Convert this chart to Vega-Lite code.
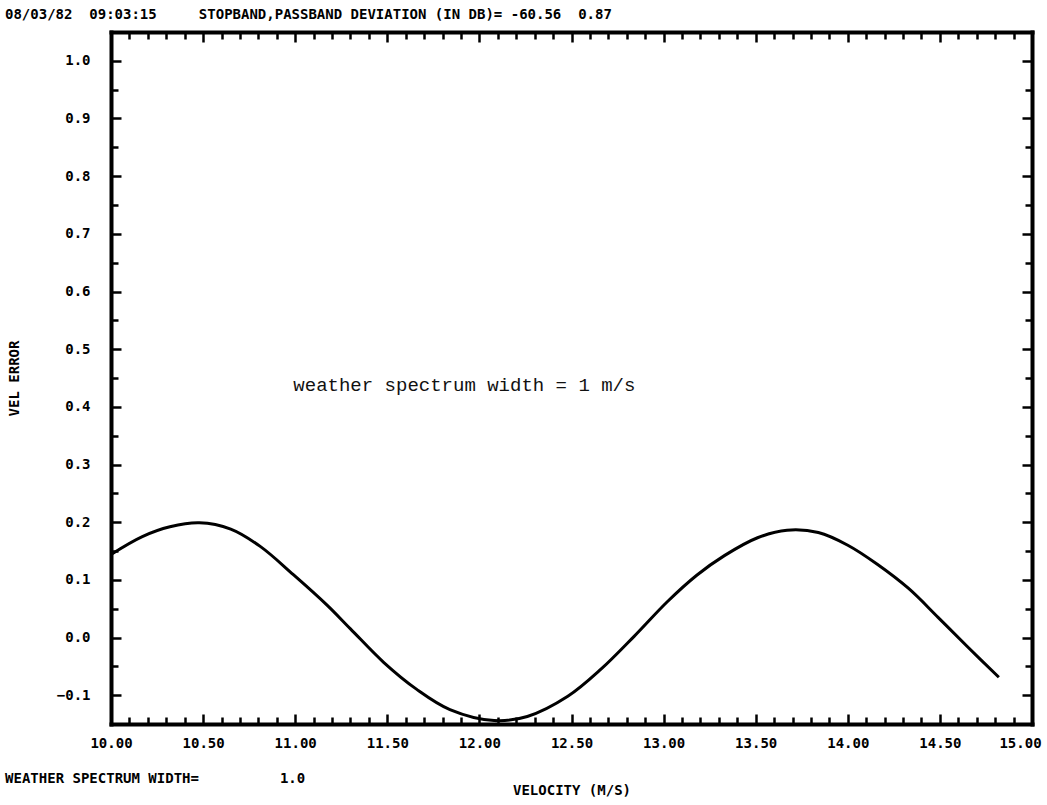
{
  "$schema": "https://vega.github.io/schema/vega-lite/v6.json",
  "width": 921,
  "height": 692,
  "autosize": {"type": "none"},
  "padding": {"left": 111, "top": 32, "right": 15, "bottom": 81},
  "background": "#ffffff",
  "config": {
    "view": {"stroke": null},
    "axis": {
      "grid": false,
      "domainColor": "#000000",
      "domainWidth": 4,
      "domainCap": "square",
      "tickColor": "#000000",
      "tickWidth": 2.5,
      "labelFont": "DejaVu Sans Mono",
      "labelFontWeight": "bold",
      "labelFontSize": 14,
      "labelColor": "#000000",
      "titleFont": "DejaVu Sans Mono",
      "titleFontWeight": "bold",
      "titleFontSize": 14,
      "titleColor": "#000000",
      "labelOverlap": false,
      "labelFlush": false
    }
  },
  "title": {
    "text": "08/03/82\u00a0\u00a009:03:15\u00a0\u00a0\u00a0\u00a0\u00a0STOPBAND,PASSBAND DEVIATION (IN DB)= -60.56\u00a0\u00a00.87",
    "anchor": "start",
    "frame": "group",
    "dx": -106,
    "offset": 9,
    "font": "DejaVu Sans Mono",
    "fontWeight": "bold",
    "fontSize": 14,
    "color": "#000000"
  },
  "datasets": {
    "curve": [
      {"velocity": 10.00, "error": 0.144},
      {"velocity": 10.17, "error": 0.175},
      {"velocity": 10.32, "error": 0.192},
      {"velocity": 10.48, "error": 0.199},
      {"velocity": 10.65, "error": 0.188},
      {"velocity": 10.81, "error": 0.158},
      {"velocity": 10.99, "error": 0.109},
      {"velocity": 11.17, "error": 0.057},
      {"velocity": 11.30, "error": 0.015},
      {"velocity": 11.48, "error": -0.043},
      {"velocity": 11.66, "error": -0.090},
      {"velocity": 11.84, "error": -0.125},
      {"velocity": 12.08, "error": -0.144},
      {"velocity": 12.26, "error": -0.137},
      {"velocity": 12.48, "error": -0.102},
      {"velocity": 12.66, "error": -0.055},
      {"velocity": 12.84, "error": 0.002},
      {"velocity": 13.02, "error": 0.062},
      {"velocity": 13.18, "error": 0.108},
      {"velocity": 13.33, "error": 0.142},
      {"velocity": 13.51, "error": 0.173},
      {"velocity": 13.67, "error": 0.186},
      {"velocity": 13.84, "error": 0.182},
      {"velocity": 14.00, "error": 0.160},
      {"velocity": 14.16, "error": 0.127},
      {"velocity": 14.33, "error": 0.085},
      {"velocity": 14.49, "error": 0.035},
      {"velocity": 14.65, "error": -0.016},
      {"velocity": 14.82, "error": -0.069}
    ],
    "plotNote": [
      {"velocity": 10.99, "error": 0.428, "text": "weather spectrum width = 1 m/s"}
    ],
    "footNote": [
      {"velocity": 9.425, "error": -0.246, "text": "WEATHER SPECTRUM WIDTH="},
      {"velocity": 10.917, "error": -0.246, "text": "1.0"}
    ]
  },
  "layer": [
    {
      "data": {"name": "curve"},
      "mark": {"type": "line", "color": "#000000", "strokeWidth": 3, "interpolate": "catmull-rom"},
      "encoding": {
        "x": {
          "field": "velocity",
          "type": "quantitative",
          "scale": {"domain": [10, 15], "nice": false, "zero": false},
          "axis": {
            "orient": "bottom",
            "title": "VELOCITY (M/S)",
            "values": [10, 10.1, 10.2, 10.3, 10.4, 10.5, 10.6, 10.7, 10.8, 10.9, 11, 11.1, 11.2, 11.3, 11.4, 11.5, 11.6, 11.7, 11.8, 11.9, 12, 12.1, 12.2, 12.3, 12.4, 12.5, 12.6, 12.7, 12.8, 12.9, 13, 13.1, 13.2, 13.3, 13.4, 13.5, 13.6, 13.7, 13.8, 13.9, 14, 14.1, 14.2, 14.3, 14.4, 14.5, 14.6, 14.7, 14.8, 14.9, 15],
            "labelExpr": "abs(datum.value*2 - round(datum.value*2)) < 0.001 ? format(datum.value, '.2f') : ''",
            "tickSize": {"condition": {"test": "abs(datum.value*2 - round(datum.value*2)) < 0.001", "value": -10}, "value": -7},
            "labelOffset": {"condition": {"test": "datum.value > 14.9", "value": -12}, "value": 0},
            "labelPadding": 22,
            "titlePadding": 30
          }
        },
        "y": {
          "field": "error",
          "type": "quantitative",
          "scale": {"domain": [-0.15, 1.05], "nice": false, "zero": false},
          "axis": {
            "orient": "left",
            "title": "VEL ERROR",
            "values": [-0.1, -0.05, 0, 0.05, 0.1, 0.15, 0.2, 0.25, 0.3, 0.35, 0.4, 0.45, 0.5, 0.55, 0.6, 0.65, 0.7, 0.75, 0.8, 0.85, 0.9, 0.95, 1.0],
            "labelExpr": "abs(datum.value*10 - round(datum.value*10)) < 0.001 ? format(datum.value, '.1f') : ''",
            "tickSize": {"condition": {"test": "abs(datum.value*10 - round(datum.value*10)) < 0.001", "value": -10}, "value": -7},
            "labelPadding": 31,
            "titlePadding": 35
          }
        }
      }
    },
    {
      "data": {"name": "plotNote"},
      "mark": {"type": "text", "font": "Liberation Mono", "fontSize": 19, "align": "left", "baseline": "alphabetic", "color": "#111111"},
      "encoding": {
        "x": {"field": "velocity", "type": "quantitative", "scale": {"domain": [10, 15], "nice": false, "zero": false}, "axis": null},
        "y": {"field": "error", "type": "quantitative", "scale": {"domain": [-0.15, 1.05], "nice": false, "zero": false}, "axis": null},
        "text": {"field": "text"}
      }
    },
    {
      "data": {"name": "footNote"},
      "mark": {"type": "text", "font": "DejaVu Sans Mono", "fontWeight": "bold", "fontSize": 14, "align": "left", "baseline": "middle", "color": "#000000"},
      "encoding": {
        "x": {"field": "velocity", "type": "quantitative", "scale": {"domain": [10, 15], "nice": false, "zero": false}, "axis": null},
        "y": {"field": "error", "type": "quantitative", "scale": {"domain": [-0.15, 1.05], "nice": false, "zero": false}, "axis": null},
        "text": {"field": "text"}
      }
    },
    {
      "data": {"name": "curve"},
      "mark": {"type": "line", "opacity": 0},
      "encoding": {
        "x": {
          "field": "velocity",
          "type": "quantitative",
          "scale": {"domain": [10, 15], "nice": false, "zero": false},
          "axis": {
            "orient": "top",
            "title": null,
            "labels": false,
            "values": [10, 10.1, 10.2, 10.3, 10.4, 10.5, 10.6, 10.7, 10.8, 10.9, 11, 11.1, 11.2, 11.3, 11.4, 11.5, 11.6, 11.7, 11.8, 11.9, 12, 12.1, 12.2, 12.3, 12.4, 12.5, 12.6, 12.7, 12.8, 12.9, 13, 13.1, 13.2, 13.3, 13.4, 13.5, 13.6, 13.7, 13.8, 13.9, 14, 14.1, 14.2, 14.3, 14.4, 14.5, 14.6, 14.7, 14.8, 14.9, 15],
            "tickSize": {"condition": {"test": "abs(datum.value*2 - round(datum.value*2)) < 0.001", "value": -10}, "value": -7}
          }
        },
        "y": {
          "field": "error",
          "type": "quantitative",
          "scale": {"domain": [-0.15, 1.05], "nice": false, "zero": false},
          "axis": {
            "orient": "right",
            "title": null,
            "labels": false,
            "values": [-0.1, -0.05, 0, 0.05, 0.1, 0.15, 0.2, 0.25, 0.3, 0.35, 0.4, 0.45, 0.5, 0.55, 0.6, 0.65, 0.7, 0.75, 0.8, 0.85, 0.9, 0.95, 1.0],
            "tickSize": {"condition": {"test": "abs(datum.value*10 - round(datum.value*10)) < 0.001", "value": -10}, "value": -7}
          }
        }
      }
    }
  ],
  "resolve": {"scale": {"x": "independent", "y": "independent"}}
}
